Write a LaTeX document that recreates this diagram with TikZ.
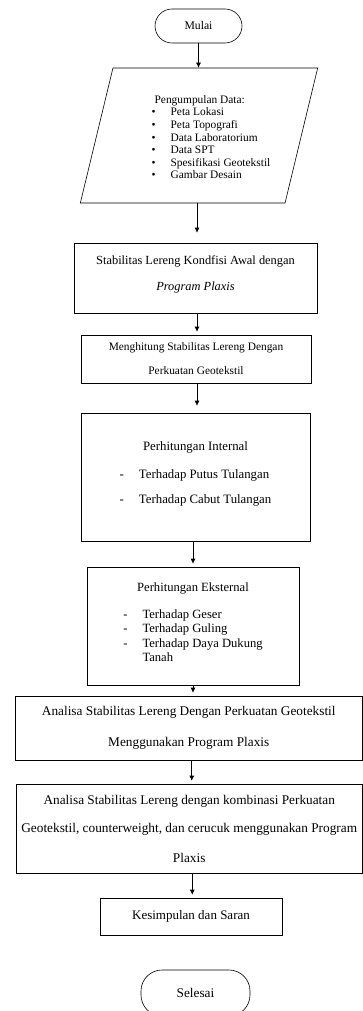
\documentclass[tikz,border=0pt]{standalone}
\usepackage{fontspec}
\setmainfont{Liberation Serif}
\usetikzlibrary{shapes.geometric, arrows.meta}

% extra depth under the last line of a box
\newcommand{\kedalaman}[1]{\rule[-#1]{0pt}{#1}}

\begin{document}
\begin{tikzpicture}[x=1pt, y=-1pt, line width=0.6pt, >={Latex[length=5pt, width=5pt]},
    startstop/.style = {draw, rectangle, inner sep=0pt},
    process/.style = {draw, rectangle, inner sep=0pt, align=center},
    io/.style = {draw, trapezium, trapezium left angle=74, trapezium right angle=106,
                 trapezium stretches=true, inner sep=0pt},
    flow/.style = {->, shorten >=3pt}]
    \useasboundingbox (0,0) rectangle (363,1011);

    \node[startstop, rounded corners=17pt, minimum width=87pt, minimum height=34pt,
          font=\fontsize{11.7}{14}\selectfont] (mulai) at (198.5,26) {Mulai};

    \node[io, minimum width=238pt, minimum height=135pt, font=\fontsize{11.4}{12.6}\selectfont]
        (data) at (199,135.5) {\hspace*{24pt}\begin{tabular}{@{}l@{\hspace{15pt}}l@{}}
            \multicolumn{2}{@{\hspace{3pt}}l@{}}{\rule{0pt}{15pt}Pengumpulan Data:}\\
            \textbullet & Peta Lokasi\\
            \textbullet & Peta Topografi\\
            \textbullet & Data Laboratorium\\
            \textbullet & Data SPT\\
            \textbullet & Spesifikasi Geotekstil\\
            \textbullet & Gambar Desain
        \end{tabular}};

    \node[process, minimum width=243pt, minimum height=70pt, font=\fontsize{12.4}{14.9}\selectfont]
        (awal) at (195.5,278) {Stabilitas Lereng Kondfisi Awal dengan\\[11pt]
                               \textit{Program Plaxis}\kedalaman{10pt}};

    \node[process, minimum width=230pt, minimum height=48pt, font=\fontsize{11.4}{13.7}\selectfont]
        (hitung) at (196,359) {Menghitung Stabilitas Lereng Dengan\\[10.3pt]
                               Perkuatan Geotekstil};

    \node[process, minimum width=229pt, minimum height=128pt, font=\fontsize{12.8}{15.4}\selectfont]
        (internal) at (195.5,477) {\begin{tabular}{@{}l@{\hspace{15pt}}l@{}}
            \multicolumn{2}{c}{Perhitungan Internal}\\[12.6pt]
            - & Terhadap Putus Tulangan\\[9.6pt]
            - & Terhadap Cabut Tulangan\kedalaman{11pt}
        \end{tabular}};

    \node[process, minimum width=212pt, minimum height=118pt, font=\fontsize{12.6}{14.3}\selectfont]
        (eksternal) at (193,626) {\begin{tabular}{@{}l@{\hspace{15pt}}l@{}}
            \multicolumn{2}{c}{Perhitungan Eksternal}\\[12.7pt]
            - & Terhadap Geser\\
            - & Terhadap Guling\\
            - & Terhadap Daya Dukung\\
              & Tanah\kedalaman{9pt}
        \end{tabular}};

    \node[process, minimum width=347.5pt, minimum height=64pt, font=\fontsize{13.3}{16}\selectfont]
        (analisa) at (188.75,728) {Analisa Stabilitas Lereng Dengan Perkuatan Geotekstil\\[15pt]
                                   Menggunakan Program Plaxis};

    \node[process, minimum width=346.5pt, minimum height=89pt, font=\fontsize{13.3}{16}\selectfont]
        (kombinasi) at (189.25,828.5) {Analisa Stabilitas Lereng dengan kombinasi Perkuatan\\[12pt]
                                       Geotekstil, counterweight, dan cerucuk menggunakan Program\\[14pt]
                                       Plaxis};

    \node[process, minimum width=182pt, minimum height=37pt, font=\fontsize{13}{15.6}\selectfont]
        (saran) at (191,916.5) {Kesimpulan dan Saran};

    \node[startstop, rounded corners=21pt, minimum width=109pt, minimum height=46pt,
          font=\fontsize{13.3}{16}\selectfont] (selesai) at (195.5,993) {Selesai};

    \draw[->] (mulai.south) -- (mulai.south |- data.north);
    \draw[flow, shorten >=10pt] (data.south) ++(-2,0) coordinate (d1) -- (d1 |- awal.north);
    \draw[flow] (awal.south) ++(1.5,0) coordinate (w1) -- (w1 |- hitung.north);
    \draw[flow, shorten >=7pt] (hitung.south) ++(1,0) coordinate (h1) -- (h1 |- internal.north);
    \draw[flow] (internal.south) ++(-2.5,0) coordinate (i1) -- (i1 |- eksternal.north);
    \draw[flow] (eksternal.south) -- (eksternal.south |- analisa.north);
    \draw[flow] (analisa.south) ++(3,0) coordinate (a1) -- (a1 |- kombinasi.north);
    \draw[flow] (kombinasi.south) ++(3,0) coordinate (k1) -- (k1 |- saran.north);

\end{tikzpicture}
\end{document}
